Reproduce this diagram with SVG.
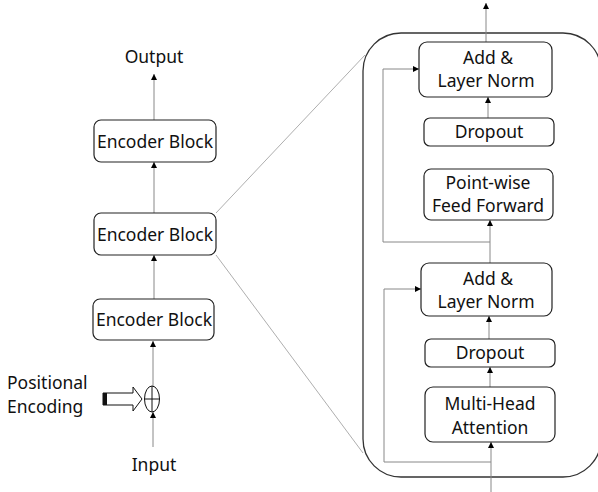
<svg xmlns="http://www.w3.org/2000/svg" width="598" height="492" viewBox="0 0 598 492">
<defs>
<marker id="ah" viewBox="0 0 6 6" refX="6" refY="3" markerWidth="6" markerHeight="6" markerUnits="userSpaceOnUse" orient="auto">
<path d="M0,0 L6,3 L0,6 z" fill="#000"/>
</marker>
<style>
text{font-family:"Noto Sans","Open Sans",sans-serif;font-size:17.5px;fill:#111;text-anchor:middle}
.box{fill:#fff;stroke:#222;stroke-width:1.2}
.c{fill:none;stroke:#888;stroke-width:1}
.a{fill:none;stroke:#888;stroke-width:1;marker-end:url(#ah)}
.z{fill:none;stroke:#999;stroke-width:0.8}
</style>
</defs>
<rect x="0" y="0" width="598" height="492" fill="#fff"/>
<g id="zoom-lines">
<line class="z" x1="216" y1="213" x2="365" y2="55"/>
<line class="z" x1="216" y1="255" x2="363" y2="453"/>
</g>
<g id="encoder-detail-frame">
<rect x="363" y="33" width="238" height="444" rx="38" fill="none" stroke="#333" stroke-width="1.3"/>
</g>
<g id="connectors">
<line class="a" x1="154" y1="120" x2="154" y2="74"/>
<line class="a" x1="154" y1="213" x2="154" y2="162"/>
<line class="a" x1="154" y1="299" x2="154" y2="255"/>
<line class="a" x1="153" y1="386" x2="153" y2="341"/>
<line class="a" x1="153" y1="447" x2="153" y2="412"/>
<line class="a" x1="486" y1="42" x2="486" y2="3"/>
<line class="a" x1="488" y1="118" x2="488" y2="97"/>
<line class="a" x1="490" y1="263" x2="490" y2="220"/>
<polyline class="a" points="490,242 383,242 383,69 419,69"/>
<line class="a" x1="489" y1="339" x2="489" y2="316"/>
<line class="a" x1="490" y1="387" x2="490" y2="367"/>
<line class="a" x1="491" y1="492" x2="491" y2="442"/>
<polyline class="a" points="491,462 384,462 384,289 421,289"/>
</g>
<g id="output">
<text x="154" y="63">Output</text>
</g>
<g id="encoder-block-1">
<rect class="box" x="94" y="120" width="122" height="42" rx="7"/>
<text x="155" y="148">Encoder Block</text>
</g>
<g id="encoder-block-2">
<rect class="box" x="94" y="213" width="122" height="42" rx="7"/>
<text x="155" y="241">Encoder Block</text>
</g>
<g id="encoder-block-3">
<rect class="box" x="93" y="299" width="121" height="41" rx="7"/>
<text x="154" y="326">Encoder Block</text>
</g>
<g id="positional-encoding">
<text x="7" y="389" style="text-anchor:start">Positional</text>
<text x="7" y="413" style="text-anchor:start">Encoding</text>
<polygon points="103,393 133,393 133,387 142,399 133,411 133,405 103,405" fill="#fff" stroke="#111" stroke-width="1"/>
<rect x="103" y="393" width="4" height="12" fill="#111"/>
</g>
<g id="add-op">
<ellipse cx="152" cy="399" rx="7.5" ry="13" fill="#fff" stroke="#111" stroke-width="1"/>
<line x1="144.5" y1="399" x2="159.5" y2="399" stroke="#111" stroke-width="1"/>
<line x1="152" y1="386" x2="152" y2="412" stroke="#111" stroke-width="1"/>
</g>
<g id="input">
<text x="154" y="471">Input</text>
</g>
<g id="add-norm-2">
<rect class="box" x="419" y="42" width="133" height="55" rx="8"/>
<text x="488" y="64">Add &amp;</text>
<text x="486" y="87">Layer Norm</text>
</g>
<g id="dropout-2">
<rect class="box" x="424" y="118" width="130" height="28" rx="6"/>
<text x="489" y="138">Dropout</text>
</g>
<g id="feed-forward">
<rect class="box" x="424" y="169" width="129" height="51" rx="7"/>
<text x="488" y="189">Point-wise</text>
<text x="488" y="212">Feed Forward</text>
</g>
<g id="add-norm-1">
<rect class="box" x="421" y="263" width="131" height="53" rx="8"/>
<text x="488" y="285">Add &amp;</text>
<text x="486" y="308">Layer Norm</text>
</g>
<g id="dropout-1">
<rect class="box" x="425" y="339" width="130" height="28" rx="6"/>
<text x="490" y="359">Dropout</text>
</g>
<g id="multi-head-attention">
<rect class="box" x="425" y="387" width="130" height="55" rx="8"/>
<text x="490" y="410">Multi-Head</text>
<text x="490" y="434">Attention</text>
</g>
</svg>
